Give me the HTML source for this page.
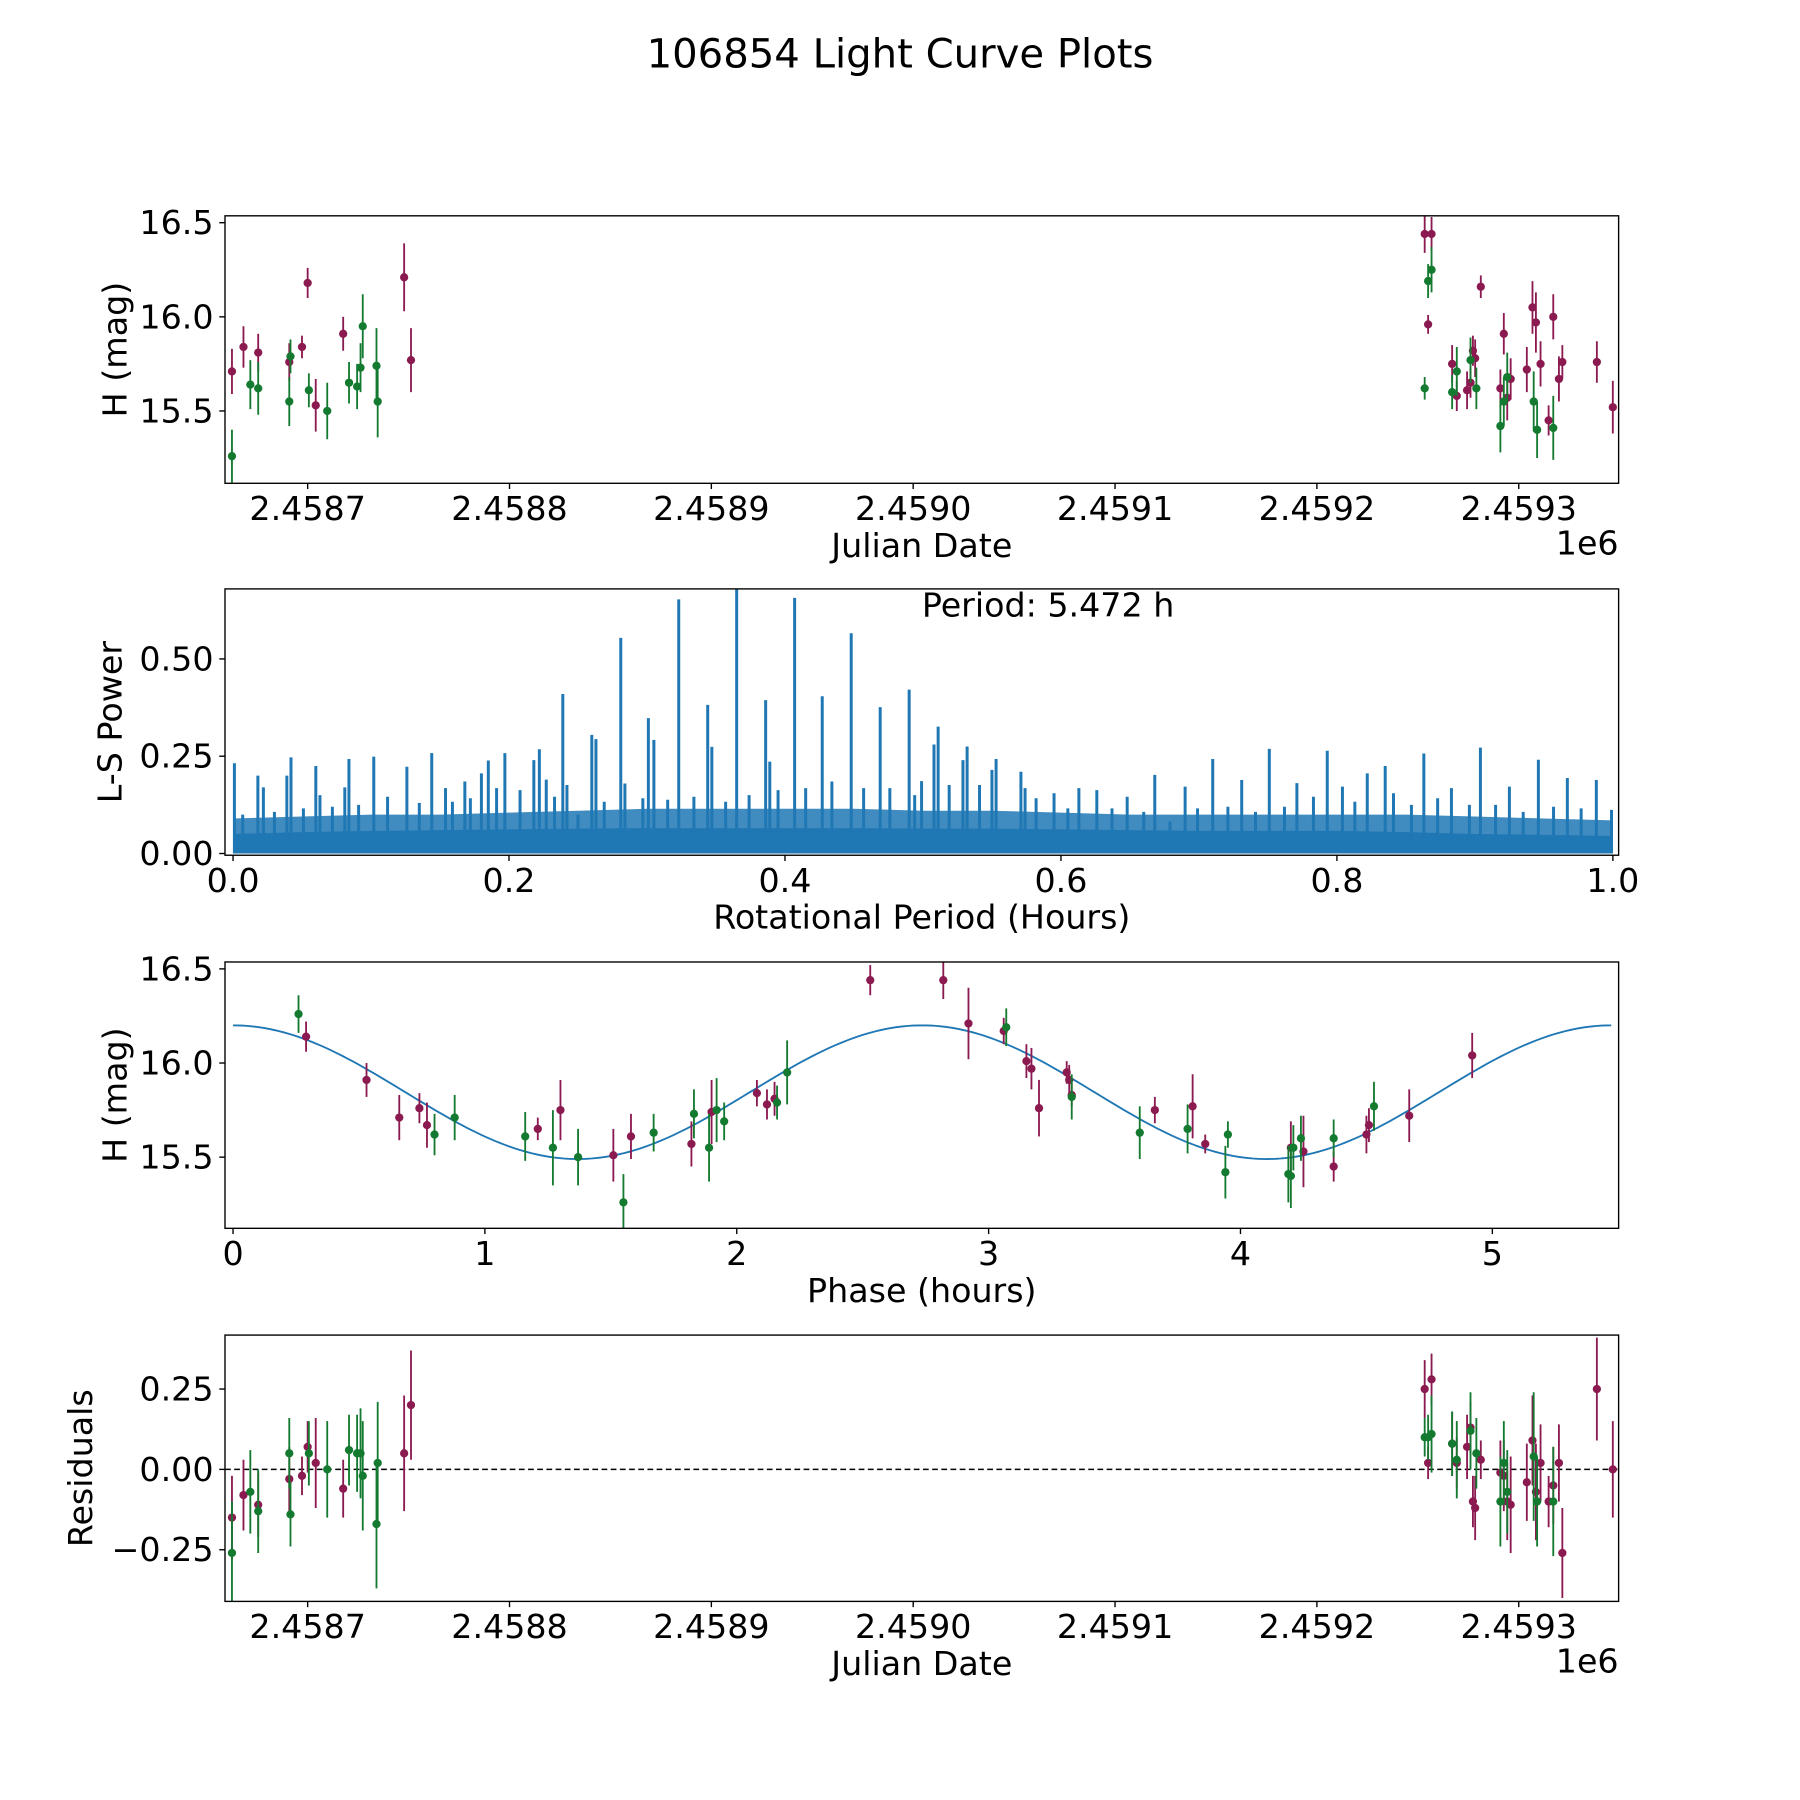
<!DOCTYPE html>
<html><head><meta charset="utf-8"><style>
html,body{margin:0;padding:0;background:#fff}
svg{display:block}
text{font-family:"DejaVu Sans","Liberation Sans",sans-serif;fill:#000}
</style></head><body>
<svg id="chart" width="1800" height="1800" viewBox="0 0 1568 1568" xmlns="http://www.w3.org/2000/svg">
<text x="784" y="59" font-size="35" text-anchor="middle">106854 Light Curve Plots</text>
</svg>
<script>
// ---- data (JD offsets from 2458700) ----
const jdBase = 2458700;
const lcMaroonT = [-37.5,-31.8,-24.5,-9.1,-2.8,0,4.0,17.6,47.8,51.2,553.4,556.8,555.1,581.2,567.0,569.3,574.4,576.1,577.3,578.4,590.9,592.6,594.3,596.0,604.0,606.8,608.5,610.8,614.8,617.1,619.9,621.6,638.7,646.6];
const lcMaroonH = [15.71,15.84,15.81,15.76,15.84,16.18,15.53,15.91,16.21,15.77,16.44,16.44,15.96,16.16,15.75,15.58,15.61,15.65,15.82,15.78,15.62,15.91,15.57,15.67,15.72,16.05,15.97,15.75,15.45,16.0,15.67,15.76,15.76,15.52];
const lcMaroonE = [0.12,0.11,0.1,0.1,0.06,0.08,0.14,0.09,0.18,0.17,0.1,0.09,0.05,0.06,0.1,0.08,0.1,0.08,0.08,0.1,0.1,0.11,0.12,0.11,0.12,0.14,0.16,0.12,0.08,0.12,0.12,0.09,0.11,0.14];
const lcGreenT = [-37.5,-28.4,-24.5,-9.1,-8.5,0.6,9.7,20.5,24.5,26.2,27.3,34.1,34.7,553.4,555.1,556.8,567.0,569.3,576.1,579.0,590.9,592.6,594.3,607.4,609.1,617.1];
const lcGreenH = [15.26,15.64,15.62,15.55,15.79,15.61,15.50,15.65,15.63,15.73,15.95,15.74,15.55,15.62,16.19,16.25,15.60,15.71,15.77,15.62,15.42,15.55,15.68,15.55,15.40,15.41];
const lcGreenE = [0.14,0.13,0.14,0.13,0.09,0.09,0.15,0.11,0.12,0.13,0.17,0.2,0.19,0.06,0.09,0.12,0.09,0.13,0.12,0.11,0.14,0.13,0.13,0.16,0.15,0.17];

const resMaroonT = [-37.5,-31.8,-24.5,-9.1,-2.8,0,4.0,17.6,47.8,51.2,553.4,555.1,556.8,567.0,569.3,574.4,576.1,577.3,578.4,581.2,590.9,592.6,594.3,596.0,604.0,606.8,608.5,610.8,614.8,617.1,619.9,621.6,638.7,646.6];
const resMaroonV = [-0.15,-0.08,-0.11,-0.03,-0.02,0.07,0.02,-0.06,0.05,0.20,0.25,0.02,0.28,0.08,0.02,0.07,0.13,-0.10,-0.12,0.03,-0.01,-0.02,-0.10,-0.11,-0.04,0.09,-0.07,0.02,-0.10,-0.05,0.02,-0.26,0.25,0.0];
const resMaroonE = [0.13,0.11,0.1,0.1,0.06,0.08,0.14,0.09,0.18,0.17,0.09,0.05,0.08,0.1,0.08,0.1,0.08,0.08,0.1,0.06,0.1,0.11,0.12,0.15,0.12,0.14,0.15,0.12,0.08,0.12,0.12,0.14,0.16,0.15];
const resGreenT = [-37.5,-28.4,-24.5,-9.1,-8.5,0.6,9.7,20.5,24.5,26.2,27.3,34.1,34.7,553.4,555.1,556.8,567.0,569.3,576.1,579.0,590.9,592.6,594.3,607.4,609.1,617.1];
const resGreenV = [-0.26,-0.07,-0.13,0.05,-0.14,0.05,0.0,0.06,0.05,0.05,-0.02,-0.17,0.02,0.10,0.10,0.11,0.08,0.03,0.12,0.05,-0.10,0.02,-0.07,0.04,-0.10,-0.10];
const resGreenE = [0.16,0.13,0.13,0.11,0.1,0.1,0.15,0.11,0.12,0.14,0.17,0.2,0.19,0.06,0.07,0.12,0.1,0.12,0.12,0.11,0.14,0.13,0.13,0.2,0.14,0.17];

const phMaroonP = [0.29,0.53,0.66,0.74,0.77,1.21,1.30,1.51,1.58,1.82,1.90,2.08,2.12,2.15,2.53,2.82,2.92,3.06,3.15,3.17,3.20,3.31,3.32,3.33,3.66,3.81,3.86,4.20,4.25,4.37,4.50,4.51,4.67,4.92];
const phMaroonH = [16.14,15.91,15.71,15.76,15.67,15.65,15.75,15.51,15.61,15.57,15.74,15.84,15.78,15.81,16.44,16.44,16.21,16.17,16.01,15.97,15.76,15.95,15.91,15.83,15.75,15.77,15.57,15.55,15.53,15.45,15.62,15.67,15.72,16.04];
const phMaroonE = [0.08,0.09,0.12,0.08,0.12,0.06,0.16,0.14,0.12,0.12,0.17,0.07,0.08,0.09,0.08,0.1,0.19,0.07,0.09,0.11,0.15,0.06,0.08,0.06,0.07,0.17,0.05,0.14,0.19,0.08,0.1,0.09,0.14,0.12];
const phGreenP = [0.26,0.80,0.88,1.16,1.27,1.37,1.55,1.67,1.83,1.89,1.92,1.95,2.16,2.20,3.07,3.33,3.60,3.79,3.94,3.95,4.19,4.20,4.21,4.24,4.37,4.53];
const phGreenH = [16.26,15.62,15.71,15.61,15.55,15.50,15.26,15.63,15.73,15.55,15.75,15.69,15.79,15.95,16.19,15.82,15.63,15.65,15.42,15.62,15.41,15.40,15.55,15.60,15.60,15.77];
const phGreenE = [0.1,0.11,0.12,0.13,0.2,0.15,0.15,0.1,0.13,0.18,0.17,0.1,0.09,0.17,0.1,0.12,0.14,0.13,0.14,0.07,0.15,0.17,0.12,0.12,0.1,0.13];
const fitParams = [15.845, 0.355, 5.472]; // mean, amplitude, period (h)

// periodogram peaks (period in hours, L-S power)
const pgPeriod = [0.001,0.018,0.022,0.039,0.042,0.060,0.063,0.081,0.084,0.102,0.126,0.144,0.154,0.168,0.180,0.185,0.197,0.218,0.222,0.227,0.239,0.242,0.260,0.263,0.281,0.284,0.301,0.305,0.323,0.344,0.347,0.365,0.386,0.389,0.407,0.427,0.448,0.469,0.490,0.499,
  0.007,0.030,0.051,0.072,0.091,0.112,0.135,0.159,0.172,0.191,0.208,0.233,0.250,0.269,0.297,0.315,0.334,0.357,0.374,0.395,0.415,0.434,0.457,0.476,0.494,
  0.508,0.511,0.529,0.532,0.550,0.553,0.571,0.574,0.519,0.541,0.595,0.613,0.626,0.648,0.668,0.690,0.710,0.731,0.751,0.771,0.793,0.804,0.822,0.835,0.841,0.863,0.883,0.904,0.925,0.946,0.967,0.988,0.999,
  0.582,0.605,0.637,0.660,0.679,0.699,0.721,0.741,0.762,0.783,0.813,0.854,0.873,0.896,0.915,0.935,0.957,0.977];
const pgPower = [0.232,0.20,0.17,0.20,0.247,0.225,0.15,0.17,0.243,0.249,0.223,0.258,0.168,0.185,0.206,0.239,0.258,0.24,0.268,0.19,0.41,0.176,0.305,0.294,0.554,0.18,0.348,0.292,0.653,0.382,0.274,0.68,0.394,0.236,0.657,0.404,0.566,0.376,0.421,0.186,
  0.10,0.107,0.116,0.12,0.125,0.146,0.13,0.133,0.142,0.168,0.163,0.146,0.10,0.133,0.142,0.138,0.146,0.133,0.15,0.163,0.168,0.185,0.168,0.168,0.15,
  0.28,0.326,0.24,0.275,0.215,0.243,0.21,0.168,0.176,0.176,0.155,0.168,0.163,0.146,0.202,0.172,0.243,0.189,0.269,0.181,0.264,0.172,0.206,0.225,0.155,0.257,0.168,0.272,0.172,0.241,0.194,0.189,0.112,
  0.142,0.116,0.116,0.107,0.082,0.116,0.12,0.107,0.12,0.146,0.133,0.125,0.142,0.125,0.125,0.107,0.12,0.116];
const pgBandX = [0,0.05,0.1,0.15,0.2,0.25,0.3,0.35,0.4,0.45,0.5,0.55,0.6,0.65,0.7,0.75,0.8,0.85,0.9,0.95,1.0];
const pgBandLow = [0.05,0.055,0.058,0.06,0.062,0.064,0.065,0.065,0.065,0.065,0.064,0.064,0.062,0.06,0.058,0.058,0.058,0.055,0.05,0.048,0.045];
const pgBandHigh = [0.09,0.095,0.1,0.1,0.105,0.11,0.115,0.115,0.115,0.115,0.11,0.11,0.105,0.1,0.1,0.1,0.1,0.1,0.095,0.09,0.085];

const jdTicks = [0,100,200,300,400,500,600];
const jdTickLabels = ['2.4587','2.4588','2.4589','2.4590','2.4591','2.4592','2.4593'];
const magTicks = [16.5,16.0,15.5];
const magTickLabels = ['16.5','16.0','15.5'];
const pgXTicks = [0,0.2,0.4,0.6,0.8,1.0];
const pgXTickLabels = ['0.0','0.2','0.4','0.6','0.8','1.0'];
const pgYTicks = [0,0.25,0.5];
const pgYTickLabels = ['0.00','0.25','0.50'];
const phTicks = [0,1,2,3,4,5];
const phTickLabels = ['0','1','2','3','4','5'];
const resTicks = [0.25,0,-0.25];
const resTickLabels = ['0.25','0.00','\u22120.25'];

// ---- drawing ----
const svg = document.getElementById('chart');
const NS = 'http://www.w3.org/2000/svg';
const MAROON = '#8b1a50', GREEN = '#137a30', BLUE = '#1f77b4';
const L = 196, R = 1410;
const FS = 29;
function mk(tag, attrs, parent) {
  const e = document.createElementNS(NS, tag);
  for (const k in attrs) e.setAttribute(k, attrs[k]);
  (parent || svg).appendChild(e);
  return e;
}
function lin(d0, d1, p0, p1) { return v => p0 + (v - d0) * (p1 - p0) / (d1 - d0); }

let clipN = 0;
function panel(name, top, bottom) {
  const g = mk('g', {});
  
  
  const id = 'clip' + (clipN++);
  const cp = mk('clipPath', {id: id}, g);
  mk('rect', {x: L, y: top, width: R - L, height: bottom - top}, cp);
  const plot = mk('g', {'clip-path': 'url(#' + id + ')'}, g);
  
  
  return {g, plot, top, bottom};
}
function frame(p) {
  const r = mk('rect', {x: L, y: p.top, width: R - L, height: p.bottom - p.top, fill: 'none', stroke: '#000', 'stroke-width': 1.2}, p.g);
  
  
}
function xAxis(p, ticks, labels, sx, title, offsetLabel) {
  ticks.forEach((t, i) => {
    const x = sx(t);
    mk('line', {x1: x, x2: x, y1: p.bottom, y2: p.bottom + 5, stroke: '#000', 'stroke-width': 1.2}, p.g);
    const tx = mk('text', {x: x, y: p.bottom + 32, 'font-size': FS, 'text-anchor': 'middle'}, p.g);
    
    
    tx.textContent = labels[i];
  });
  const tt = mk('text', {x: (L + R) / 2, y: p.bottom + 64, 'font-size': FS, 'text-anchor': 'middle'}, p.g);
  
  
  tt.textContent = title;
  if (offsetLabel) {
    const o = mk('text', {x: R, y: p.bottom + 62, 'font-size': FS, 'text-anchor': 'end'}, p.g);
    
    
    o.textContent = offsetLabel;
  }
}
function yAxis(p, ticks, labels, sy, title, titleX) {
  ticks.forEach((t, i) => {
    const y = sy(t);
    mk('line', {x1: L - 5, x2: L, y1: y, y2: y, stroke: '#000', 'stroke-width': 1.2}, p.g);
    const tx = mk('text', {x: L - 10, y: y + 10, 'font-size': FS, 'text-anchor': 'end'}, p.g);
    
    
    tx.textContent = labels[i];
  });
  const cy = (p.top + p.bottom) / 2;
  const tt = mk('text', {x: titleX, y: cy, 'font-size': FS, 'text-anchor': 'middle', transform: 'rotate(-90 ' + titleX + ' ' + cy + ')'}, p.g);
  
  
  tt.textContent = title;
}
function errPoints(p, xs, ys, es, sx, sy, color, name) {
  xs.forEach((xv, i) => {
    const x = sx(xv);
    const l = mk('line', {x1: x, x2: x, y1: sy(ys[i] - es[i]), y2: sy(ys[i] + es[i]), stroke: color, 'stroke-width': 1.6}, p.plot);
    
    
    const c = mk('circle', {cx: x, cy: sy(ys[i]), r: 3.6, fill: color}, p.plot);
    
    
  });
}

// Panel 1: light curve
const sxJD = lin(0, 600, 268, 1323);
const p1 = panel('light-curve-panel', 188, 421);
const sy1 = lin(16.5, 15.5, 194, 358);
errPoints(p1, lcMaroonT, lcMaroonH, lcMaroonE, sxJD, sy1, MAROON, 'maroon-observation');
errPoints(p1, lcGreenT, lcGreenH, lcGreenE, sxJD, sy1, GREEN, 'green-observation');
frame(p1);
xAxis(p1, jdTicks, jdTickLabels, sxJD, 'Julian Date', '1e6');
yAxis(p1, magTicks, magTickLabels, sy1, 'H (mag)', 110);

// Panel 2: periodogram
const p2 = panel('periodogram-panel', 513, 745);
const sx2 = lin(0, 1, 203, 1405);
const sy2 = lin(0, 0.5, 743.5, 574);
function bandPath(vals) {
  let d = 'M' + sx2(pgBandX[0]) + ',' + sy2(0);
  pgBandX.forEach((x, i) => { d += ' L' + sx2(x) + ',' + sy2(vals[i]); });
  d += ' L' + sx2(pgBandX[pgBandX.length - 1]) + ',' + sy2(0) + ' Z';
  return d;
}
const bh = mk('path', {d: bandPath(pgBandHigh), fill: BLUE, opacity: 0.85}, p2.plot);


const bl = mk('path', {d: bandPath(pgBandLow), fill: BLUE}, p2.plot);


pgPeriod.forEach((x, i) => {
  const s = mk('line', {x1: sx2(x), x2: sx2(x), y1: sy2(0), y2: sy2(pgPower[i]), stroke: BLUE, 'stroke-width': 2.6}, p2.plot);
  
  
});
frame(p2);
xAxis(p2, pgXTicks, pgXTickLabels, sx2, 'Rotational Period (Hours)');
yAxis(p2, pgYTicks, pgYTickLabels, sy2, 'L-S Power', 106);
const pl = mk('text', {x: 913, y: 537, 'font-size': FS, 'text-anchor': 'middle'}, p2.g);


pl.textContent = 'Period: 5.472 h';

// Panel 3: phased light curve
const p3 = panel('phase-curve-panel', 838, 1070);
const sx3 = lin(0, 5, 203, 1300);
const sy3 = lin(16.5, 15.5, 844, 1008);
let fd = '';
for (let k = 0; k <= 300; k++) {
  const ph = fitParams[2] * k / 300;
  const m = fitParams[0] + fitParams[1] * Math.cos(4 * Math.PI * ph / fitParams[2]);
  fd += (k ? ' L' : 'M') + sx3(ph).toFixed(2) + ',' + sy3(m).toFixed(2);
}
const fit = mk('path', {d: fd, fill: 'none', stroke: BLUE, 'stroke-width': 1.6}, p3.plot);


errPoints(p3, phMaroonP, phMaroonH, phMaroonE, sx3, sy3, MAROON, 'maroon-phased');
errPoints(p3, phGreenP, phGreenH, phGreenE, sx3, sy3, GREEN, 'green-phased');
frame(p3);
xAxis(p3, phTicks, phTickLabels, sx3, 'Phase (hours)');
yAxis(p3, magTicks, magTickLabels, sy3, 'H (mag)', 110);

// Panel 4: residuals
const p4 = panel('residuals-panel', 1163, 1395);
const sy4 = lin(0, 0.25, 1280, 1210);
const zl = mk('line', {x1: L, x2: R, y1: sy4(0), y2: sy4(0), stroke: '#000', 'stroke-width': 1.3, 'stroke-dasharray': '5,3'}, p4.plot);


errPoints(p4, resMaroonT, resMaroonV, resMaroonE, sxJD, sy4, MAROON, 'maroon-residual');
errPoints(p4, resGreenT, resGreenV, resGreenE, sxJD, sy4, GREEN, 'green-residual');
frame(p4);
xAxis(p4, jdTicks, jdTickLabels, sxJD, 'Julian Date', '1e6');
yAxis(p4, resTicks, resTickLabels, sy4, 'Residuals', 80);
</script>
</body></html>
